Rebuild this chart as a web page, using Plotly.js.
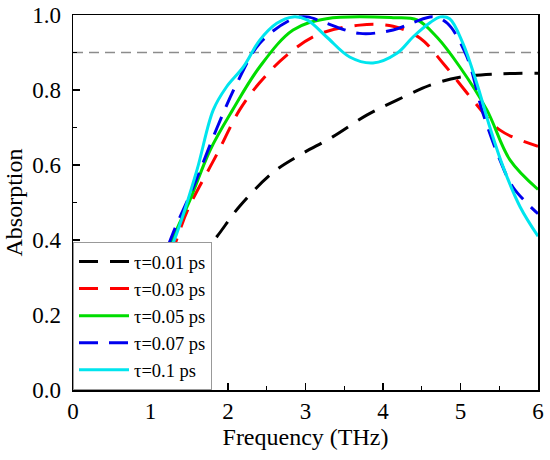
<!DOCTYPE html>
<html><head><meta charset="utf-8">
<script src="https://cdn.plot.ly/plotly-3.0.1.min.js"></script>
<style>body{margin:0;background:#fff}#c{width:550px;height:460px}</style>
</head><body><div id="c"></div>
<script>
const x001 = [1.2, 1.5, 1.68, 1.86, 2.15, 2.58, 2.93, 3.35, 3.79, 4.18, 4.61, 4.99, 5.51, 6.0];
const y001 = [0.20, 0.30, 0.365, 0.41, 0.49, 0.58, 0.627, 0.675, 0.733, 0.773, 0.813, 0.834, 0.843, 0.845];

const x003 = [1.1, 1.3, 1.48, 1.86, 2.15, 2.41, 2.76, 3.15, 3.70, 4.13, 4.48, 4.78, 5.16, 5.51, 6.0];
const y003 = [0.28, 0.38, 0.48, 0.63, 0.747, 0.82, 0.893, 0.947, 0.973, 0.97, 0.938, 0.87, 0.773, 0.693, 0.65];

const x005 = [1.1, 1.3, 1.51, 1.77, 2.06, 2.41, 2.84, 3.27, 4.13, 4.44, 4.70, 4.99, 5.34, 5.64, 6.0];
const y005 = [0.30, 0.41, 0.507, 0.64, 0.747, 0.862, 0.96, 0.99, 0.993, 0.987, 0.94, 0.862, 0.747, 0.613, 0.535];

const x007 = [1.1, 1.29, 1.55, 1.86, 2.12, 2.41, 2.84, 3.02, 3.27, 3.70, 4.13, 4.39, 4.65, 4.83, 5.08, 5.29, 5.51, 5.68, 6.0];
const y007 = [0.31, 0.418, 0.54, 0.70, 0.82, 0.925, 0.99, 0.995, 0.978, 0.951, 0.96, 0.98, 0.995, 0.978, 0.89, 0.738, 0.613, 0.54, 0.47];

const x01 = [1.15, 1.34, 1.60, 1.81, 1.98, 2.20, 2.41, 2.63, 2.84, 3.02, 3.27, 3.57, 3.87, 4.18, 4.39, 4.61, 4.74, 4.86, 5.03, 5.21, 5.38, 5.55, 5.77, 6.0];
const y01 = [0.32, 0.418, 0.587, 0.747, 0.808, 0.862, 0.933, 0.978, 0.995, 0.987, 0.942, 0.888, 0.872, 0.898, 0.942, 0.98, 0.995, 0.99, 0.925, 0.818, 0.70, 0.595, 0.488, 0.41];

const refX = [0, 6];
const refY = [0.9, 0.9];

const names = ['τ=0.01 ps', 'τ=0.03 ps', 'τ=0.05 ps', 'τ=0.07 ps', 'τ=0.1 ps'];

const font = 'Liberation Serif';
const traces = [
  {x: refX, y: refY, mode: 'lines', showlegend: false, line: {color: '#8c8c8c', width: 1.5, dash: '10px,6px'}, hoverinfo: 'skip'},
  {x: x001, y: y001, name: names[0], mode: 'lines', line: {color: '#000000', width: 3, dash: '19px,12px', shape: 'spline'}},
  {x: x003, y: y003, name: names[1], mode: 'lines', line: {color: '#ff0000', width: 3, dash: '19px,12px', shape: 'spline'}},
  {x: x005, y: y005, name: names[2], mode: 'lines', line: {color: '#00dd00', width: 3, shape: 'spline'}},
  {x: x007, y: y007, name: names[3], mode: 'lines', line: {color: '#0000ee', width: 3, dash: '19px,11px', shape: 'spline'}},
  {x: x01, y: y01, name: names[4], mode: 'lines', line: {color: '#00e5ee', width: 3, shape: 'spline'}}
];

const layout = {
  width: 550, height: 460,
  margin: {l: 73, r: 12, t: 15, b: 70},
  paper_bgcolor: '#fff', plot_bgcolor: '#fff',
  font: {family: font, size: 23, color: '#000'},
  xaxis: {
    range: [0, 6], dtick: 1, ticks: 'inside', ticklen: 7, tickwidth: 1.2, tickcolor: '#000',
    showline: true, linecolor: '#000', linewidth: 1.5, mirror: true, showgrid: false, zeroline: false,
    minor: {dtick: 0.5, ticks: 'inside', ticklen: 4, tickcolor: '#000'},
    title: {text: 'Frequency (THz)', font: {family: font, size: 24, color: '#000'}, standoff: 4},
    tickfont: {family: font, size: 23, color: '#000'}
  },
  yaxis: {
    range: [0, 1.0], dtick: 0.2, tickformat: '.1f', ticks: 'inside', ticklen: 7, tickwidth: 1.2, tickcolor: '#000',
    showline: true, linecolor: '#000', linewidth: 1.5, mirror: true, showgrid: false, zeroline: false,
    minor: {dtick: 0.1, ticks: 'inside', ticklen: 4, tickcolor: '#000'},
    ticklabelstandoff: 6,
    title: {text: 'Absorption', font: {family: font, size: 24, color: '#000'}, standoff: 3},
    tickfont: {family: font, size: 23, color: '#000'}
  },
  legend: {
    x: 0, y: 0, xanchor: 'left', yanchor: 'bottom',
    bgcolor: '#fff', bordercolor: '#999', borderwidth: 1,
    font: {family: font, size: 18.5, color: '#000'},
    itemwidth: 50, tracegroupgap: 0
  },
  showlegend: true
};

Plotly.newPlot('c', traces, layout, {displayModeBar: false, staticPlot: true});
</script>
</body></html>
